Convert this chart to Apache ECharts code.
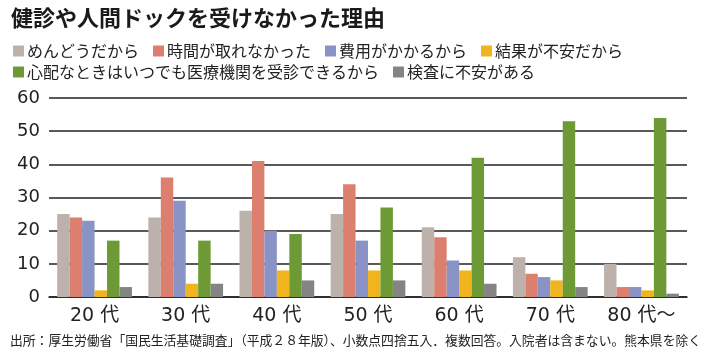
<!DOCTYPE html>
<html><head><meta charset="utf-8">
<script src="https://cdn.jsdelivr.net/npm/echarts@6/dist/echarts.min.js"></script>
<style>html,body{margin:0;padding:0;background:#fff}#c{width:710px;height:355px}</style>
</head><body><div id="c"></div>
<script>
const categories = ['20 代','30 代','40 代','50 代','60 代','70 代','80 代～'];
const seriesNames = ['めんどうだから','時間が取れなかった','費用がかかるから','結果が不安だから','心配なときはいつでも医療機関を受診できるから','検査に不安がある'];
const mendou   = [25, 24, 26, 25, 21, 12, 10];
const jikan    = [24, 36, 41, 34, 18, 7, 3];
const hiyou    = [23, 29, 20, 17, 11, 6, 3];
const kekka    = [2, 4, 8, 8, 8, 5, 2];
const shinpai  = [17, 17, 19, 27, 42, 53, 54];
const kensa    = [3, 4, 5, 5, 4, 3, 1];
const yTicks = [0, 10, 20, 30, 40, 50, 60];
const colors = ['#bcb2ab','#dc7f6f','#8a93c6','#f0b51e','#6e9a35','#848484'];
const values = [mendou, jikan, hiyou, kekka, shinpai, kensa];
const FONT = '"Noto Sans CJK JP", sans-serif';
const NUMFONT = '"DejaVu Sans", "Noto Sans CJK JP", sans-serif';

const chart = echarts.init(document.getElementById('c'), null, {renderer:'canvas'});
const legendCommon = {left:8, itemWidth:11, itemHeight:11, itemGap:14, icon:'rect',
  textStyle:{fontFamily:FONT, fontSize:16, color:'#222', padding:[0,0,0,-2]}};
chart.setOption({
  animation:false,
  textStyle:{fontFamily:FONT},
  title:{text:'健診や人間ドックを受けなかった理由', left:6, top:2,
    textStyle:{fontFamily:FONT, fontSize:22, fontWeight:'bold', color:'#1a1a1a'}},
  legend:[
    Object.assign({data:seriesNames.slice(0,4), top:38}, legendCommon),
    Object.assign({data:seriesNames.slice(4), top:59}, legendCommon)
  ],
  grid:{left:49, right:23, top:98, bottom:58},
  xAxis:{type:'category', data:categories,
    axisLine:{show:true, lineStyle:{color:'#222', width:1.5}},
    axisTick:{show:false},
    axisLabel:{fontFamily:NUMFONT, fontSize:19, color:'#222', margin:10}},
  yAxis:{type:'value', min:yTicks[0], max:yTicks[yTicks.length-1], interval:10,
    axisLine:{show:false}, axisTick:{show:false},
    splitLine:{lineStyle:{color:'#222', width:1.5}},
    axisLabel:{fontFamily:NUMFONT, fontSize:18, color:'#222', margin:9}},
  series: values.map((v,i)=>({
    name:seriesNames[i], type:'bar', data:v, barGap:'0%', barCategoryGap:'18%',
    itemStyle:{color:colors[i]}
  })),
  graphic:[{type:'text', left:10, top:334,
    style:{text:'出所：厚生労働省「国民生活基礎調査」（平成２８年版）、小数点四捨五入．複数回答。入院者は含まない。熊本県を除く',
      font:'12.8px "Noto Sans CJK JP"', fill:'#222'}}]
});
</script></body></html>
